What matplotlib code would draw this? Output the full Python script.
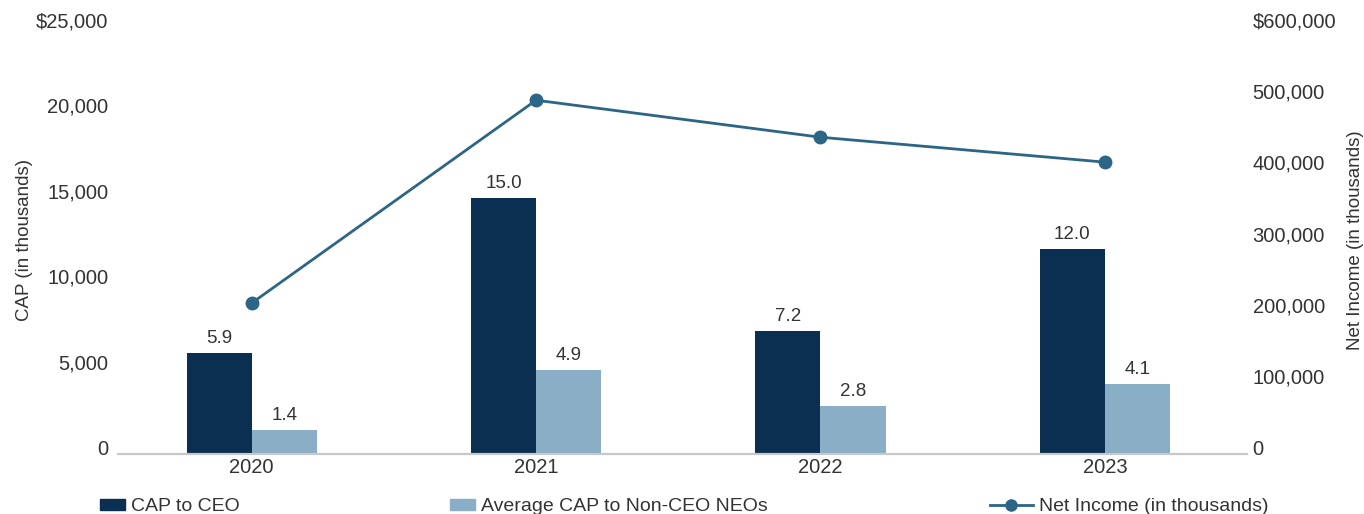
import numpy as np
import matplotlib.pyplot as plt
import matplotlib.transforms as mtransforms
from matplotlib.patches import Patch
from matplotlib.lines import Line2D
from matplotlib.ticker import FuncFormatter

plt.rcParams['font.family'] = ['Liberation Sans', 'DejaVu Sans']

# Dados
years = ["2020", "2021", "2022", "2023"]
cap_ceo = [5900, 15000, 7200, 12000]
cap_neo = [1400, 4900, 2800, 4100]
ceo_labels = ["5.9", "15.0", "7.2", "12.0"]
neo_labels = ["1.4", "4.9", "2.8", "4.1"]
net_income = [212000, 497000, 445000, 410000]

DARK = "#0b2f50"
LIGHT = "#8aaec6"
LINE = "#2c6585"
TEXT = "#333333"


def left_fmt(v, pos):
    s = f"{int(v):,}"
    return "$" + s if v >= 25000 else s


def right_fmt(v, pos):
    s = f"{int(v):,}"
    return "$" + s if v >= 600000 else s


def main():
    fig = plt.figure(figsize=(13.64, 5.14), dpi=100)
    ax = fig.add_axes([0.0865, 0.1167, 0.8278, 0.831])
    ax2 = ax.twinx()

    x = np.arange(len(years))
    w = 0.229

    b1 = ax.bar(x - w / 2, cap_ceo, w, color=DARK, zorder=2)
    b2 = ax.bar(x + w / 2, cap_neo, w, color=LIGHT, zorder=2)

    # Rótulos das barras
    for rect, lab in zip(b1, ceo_labels):
        ax.text(rect.get_x() + rect.get_width() / 2, rect.get_height() + 350,
                lab, ha="center", va="bottom", fontsize=13.5, color=TEXT)
    for rect, lab in zip(b2, neo_labels):
        ax.text(rect.get_x() + rect.get_width() / 2, rect.get_height() + 350,
                lab, ha="center", va="bottom", fontsize=13.5, color=TEXT)

    ax2.plot(x, net_income, color=LINE, lw=2, marker="o", markersize=9, zorder=3)

    ax.set_xlim(-0.47, 3.5)
    ax.set_ylim(0, 25000)
    ax2.set_ylim(0, 600000)
    ax.set_yticks(np.arange(0, 25001, 5000))
    ax2.set_yticks(np.arange(0, 600001, 100000))
    ax.yaxis.set_major_formatter(FuncFormatter(left_fmt))
    ax2.yaxis.set_major_formatter(FuncFormatter(right_fmt))
    ax.set_xticks(x)
    ax.set_xticklabels(years)

    for a in (ax, ax2):
        for s in ("top", "left", "right"):
            a.spines[s].set_visible(False)
        a.spines["bottom"].set_color("#c8c8c8")
        a.spines["bottom"].set_linewidth(1.5)
        a.tick_params(length=0, labelsize=14.5, colors=TEXT)
    ax.tick_params(axis="y", pad=7)
    ax2.tick_params(axis="y", pad=4)
    ax.tick_params(axis="x", pad=3)

    # Rótulos do eixo y um pouco acima, como no original
    shift = mtransforms.ScaledTranslation(0, 5 / 72, fig.dpi_scale_trans)
    for lab in ax.get_yticklabels() + ax2.get_yticklabels():
        lab.set_transform(lab.get_transform() + shift)

    ax.set_ylabel("CAP (in thousands)", fontsize=13.5, color=TEXT, labelpad=2)
    ax2.set_ylabel("Net Income (in thousands)", fontsize=13.5, color=TEXT,
                   rotation=90, labelpad=8)

    # Legendas separadas, uma por item
    items = [
        (Patch(color=DARK), "CAP to CEO", 100, 1.3),
        (Patch(color=LIGHT), "Average CAP to Non-CEO NEOs", 450, 1.3),
        (Line2D([0], [0], color=LINE, lw=2, marker="o", markersize=8),
         "Net Income (in thousands)", 990, 2.2),
    ]
    for handle, label, px, hl in items:
        fig.legend([handle], [label], loc="center left",
                   bbox_to_anchor=(px / 1364, 0.014), frameon=False,
                   fontsize=14, handlelength=hl, handleheight=0.45,
                   handletextpad=0.3, borderpad=0, borderaxespad=0,
                   labelcolor=TEXT)

    fig.savefig("out.png", dpi=100)


if __name__ == "__main__":
    main()
